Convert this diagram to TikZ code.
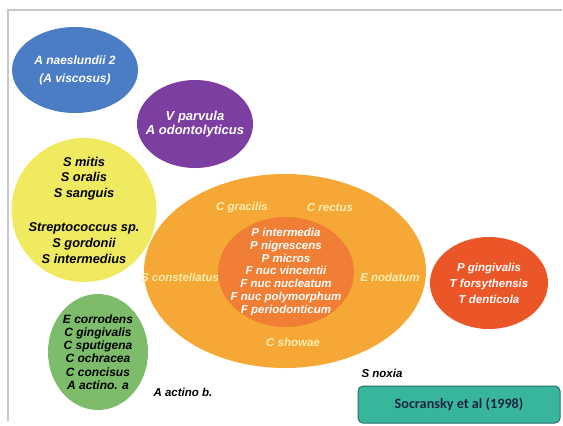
\documentclass[tikz,border=0pt]{standalone}
\usepackage{fontspec}
\setmainfont{Liberation Sans}
\newfontfamily\notefont{Carlito}
\usetikzlibrary{shapes.geometric}

\definecolor{blueblob}{RGB}{74,125,196}
\definecolor{purpleblob}{RGB}{124,62,160}
\definecolor{yellowblob}{RGB}{240,234,96}
\definecolor{greenblob}{RGB}{124,188,106}
\definecolor{orangeblob}{RGB}{246,168,54}
\definecolor{innerblob}{RGB}{240,126,52}
\definecolor{redblob}{RGB}{234,86,40}
\definecolor{tealbox}{RGB}{56,182,156}
\definecolor{tealedge}{RGB}{36,112,106}
\definecolor{cream}{RGB}{255,238,176}
\definecolor{navytext}{RGB}{28,38,66}
\definecolor{framegray}{RGB}{200,200,204}

\tikzset{
  blob/.style={ellipse, inner sep=-24pt, align=center,
    font=\fontsize{11.5}{14}\selectfont\bfseries\itshape},
  species/.style={font=\fontsize{11.5}{14}\selectfont\bfseries\itshape},
}

\begin{document}
\begin{tikzpicture}[x=1pt,y=-1pt]
    \useasboundingbox (0,0) rectangle (563,426);

    % slide frame (only top and left edge show)
    \draw[framegray, line width=1.2pt] (8,421) -- (8,10) -- (562,10);

    % the small complexes
    \node[blob, fill=blueblob, text=white, minimum width=126, minimum height=86,
          font=\fontsize{12}{14}\selectfont\bfseries\itshape] (blue) at (75,70)
        {A naeslundii 2\\[4pt](A viscosus)};
    \node[blob, fill=purpleblob, text=white, minimum width=116, minimum height=88,
          font=\fontsize{13}{14.5}\selectfont\bfseries\itshape] (purple) at (195,124)
        {V parvula\\A odontolyticus};
    \node[blob, fill=yellowblob, text=black, minimum width=145, minimum height=144,
          font=\fontsize{12.8}{15.8}\selectfont\bfseries\itshape] (yellow) at (84,210)
        {S mitis\\S oralis\\S sanguis\\[18pt]Streptococcus sp.\\S gordonii\\S intermedius};
    \node[blob, fill=greenblob, text=black, minimum width=100, minimum height=116,
          font=\fontsize{12}{13.3}\selectfont\bfseries\itshape] (green) at (98,352)
        {E corrodens\\C gingivalis\\C sputigena\\C ochracea\\C concisus\\A actino. a};
    \node[blob, fill=redblob, text=white, minimum width=118, minimum height=92,
          font=\fontsize{11.5}{16}\selectfont\bfseries\itshape] (red) at (489,283)
        {P gingivalis\\T forsythensis\\T denticola};

    % orange complex with the inner core
    \node[blob, fill=orangeblob, minimum width=282, minimum height=194] (orange) at (285,271) {};
    \node[blob, fill=innerblob, text=white, minimum width=136, minimum height=110,
          font=\fontsize{11.5}{12.9}\selectfont\bfseries\itshape] (inner) at (286,272)
        {P intermedia\\P nigrescens\\P micros\\F nuc vincentii\\F nuc nucleatum\\F nuc polymorphum\\F periodonticum};

    % outer orange members
    \foreach \name/\x/\y/\txt in {gracilis/242/208/C gracilis, rectus/330/208/C rectus,
        constellatus/180/277/S constellatus, nodatum/390/277/E nodatum, showae/293/342/C showae}{
        \node[species, text=cream] (\name) at (\x,\y) {\txt};
    }

    % loose members
    \node[species] (actinob) at (183,392) {A actino b.};
    \node[species] (noxia) at (382,373) {S noxia};

    % reference box
    \node[draw=tealedge, line width=1pt, fill=tealbox, rounded corners=5pt,
          minimum width=202, minimum height=37, text=navytext,
          font=\notefont\fontsize{14.2}{16}\selectfont\bfseries] (source) at (459,404.5)
        {Socransky et al (1998)};
\end{tikzpicture}
\end{document}
